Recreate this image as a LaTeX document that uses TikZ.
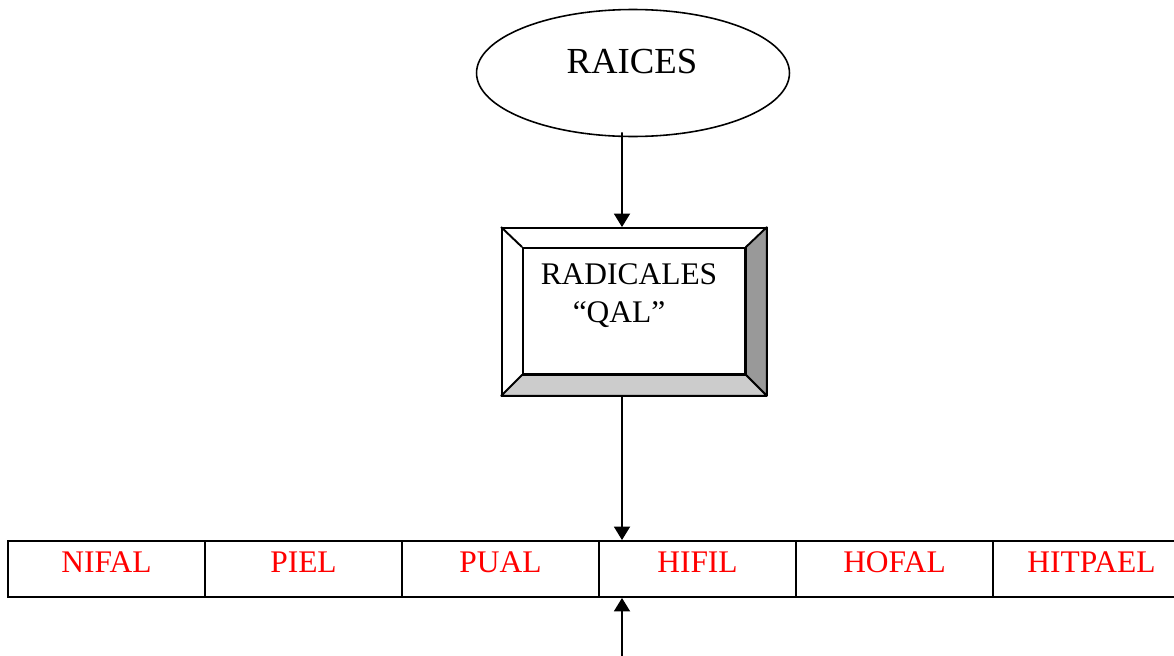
\documentclass[tikz,border=0pt]{standalone}
\usepackage{fontspec}
\setmainfont{Liberation Serif}
\usepackage{tikz}
\usetikzlibrary{shapes.geometric, arrows.meta, positioning}

\begin{document}
\begin{tikzpicture}[
    x=0.02cm, y=-0.02cm,
    root/.style={ellipse, draw, line width=0.9pt, minimum width=6.26cm, minimum height=2.54cm},
    frame/.style={rectangle, draw, line width=1.1pt, inner sep=0pt},
    bevel/.style={line width=1.1pt, line join=bevel},
    cell/.style={rectangle, draw, line width=1.1pt, minimum width=3.94cm, minimum height=1.12cm, inner sep=0pt,
        text height=0.5cm, text depth=0.38cm, text=red, font=\fontsize{17.9}{21.5}\selectfont},
    link/.style={-{Triangle[width=0.32cm, length=0.27cm]}, line width=1.1pt},
]
\useasboundingbox (0,0) rectangle (1174,656);

% Root
\node[root] (raices) at (633,73) {};
\node[font=\fontsize{20.9}{25}\selectfont] (raicestext) at (632,62) {RAICES};

% Bevelled box
\node[frame, minimum width=5.28cm, minimum height=3.34cm] (radicales) at (634,311.5) {};
\node[frame, minimum width=4.44cm, minimum height=2.52cm] (radicalesin) at (634,311) {};
\filldraw[bevel, fill=black!40] (radicales.north east) -- (radicales.south east)
    -- (radicalesin.south east) -- (radicalesin.north east) -- cycle;
\filldraw[bevel, fill=black!20] (radicales.south west) -- (radicales.south east)
    -- (radicalesin.south east) -- (radicalesin.south west) -- cycle;
\draw[bevel] (radicales.north west) -- (radicalesin.north west);
\node[align=left, font=\fontsize{17.9}{21.5}\selectfont] (radicalestext) at (629,296)
    {RADICALES\\\hspace*{0.64cm}“QAL”};

% Forms
\foreach \form [count=\i] in {NIFAL, PIEL, PUAL, HIFIL, HOFAL, HITPAEL}
    \node[cell] (form\i) at ({106.5+197*(\i-1)},569) {\form};
\coordinate (below) at (622,656);

% Arrows
\draw[link] ([xshift=-0.22cm, yshift=0.1cm]raices.south) -- ([xshift=-0.24cm]radicales.north);
\draw[link] ([xshift=-0.24cm]radicales.south) -- (form4.north -| below);
\draw[link] (below) -- (form4.south -| below);

\end{tikzpicture}
\end{document}
